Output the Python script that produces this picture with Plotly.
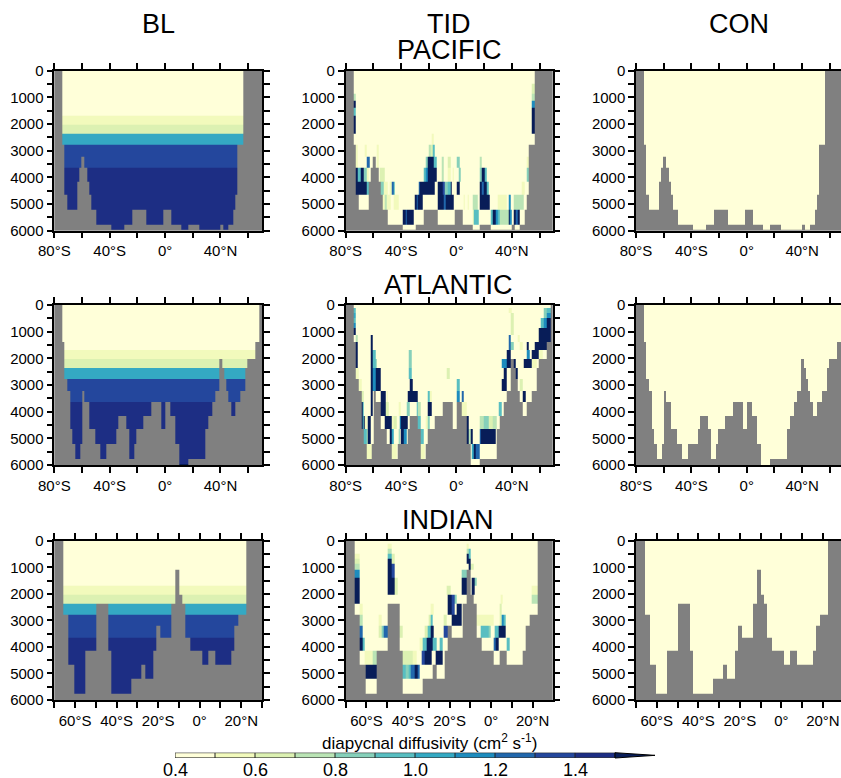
import numpy as np
import plotly.graph_objects as go

W, H = 841, 778
FONT = "Liberation Sans, Arial, Helvetica, sans-serif"

# ---------------- data ----------------
# model layer interfaces (m)
LAYER_EDGES = [0, 100, 300, 500, 680, 860, 1110, 1380, 1690, 2030, 2380, 2780,
               3210, 3650, 4150, 4660, 5200, 5760, 5950, 6000]

# diffusivity by layer (cm2/s)
BL_PROFILE = [0.45, 0.45, 0.45, 0.45, 0.45, 0.45, 0.45, 0.45, 0.55, 0.65, 1.05,
              1.35, 1.35, 1.45, 1.45, 1.45, 1.45, 1.45, 1.6]
CON_PROFILE = [0.45, 0.45, 0.45, 0.45, 0.45, 0.45, 0.45, 0.45, 0.45, 0.45, 0.45,
               0.45, 0.45, 0.45, 0.45, 0.45, 0.45, 0.45, 0.45]
TID_PROFILE = CON_PROFILE

LEVELS = [0.4, 0.5, 0.6, 0.7, 0.8, 0.9, 1.0, 1.1, 1.2, 1.3, 1.4, 1.5]
COLORS = ['#FFFFD9', '#F2FABC', '#DCF1B2', '#BAE4B5', '#86D0BA', '#58BEC1',
          '#34A9C3', '#1D8CBE', '#2167AC', '#24479D', '#1D2E84', '#081D58']
CB_LABELS = [0.4, 0.6, 0.8, 1.0, 1.2, 1.4]

# bathymetry: latitude where a run starts, bottom depth of that run
PAC_BATHY_LAT = [-80, -74.5, -72.5, -70.5, -63.5, -62, -60.5, -58, -56, -54.5, -53,
                 -49.5, -38.5, -29.5, -24, -13.5, -1, 4.5, 11.5, 17, 24.5, 40, 42,
                 45.5, 49, 51, 52.5, 56.5]
PAC_BATHY_DEP = [0, 2780, 4660, 5200, 4150, 3650, 3210, 3650, 4150, 4660, 5200,
                 5760, 5950, 5760, 5200, 5760, 5200, 5760, 5950, 5760, 5950, 5760, 5950,
                 5760, 5200, 4660, 2780, 0]

ATL_BATHY_LAT = [-80, -74.5, -72.5, -70.5, -68.5, -67, -65, -61.5, -60, -58, -54.5,
                 -50.5, -47, -42.5, -35, -33.5, -28, -26, -22.5, -20.5, -15.5, -10,
                 -3, 0.5, 4, 7.5, 10, 16.5, 29, 31.5, 34, 36.5, 39, 41, 42.5, 44.5,
                 46, 47.5, 50.5, 54.5, 58, 59.5, 65.5, 68]
ATL_BATHY_DEP = [0, 1380, 2780, 3210, 4660, 5200, 5760, 5200, 3210, 3650, 4660,
                 5200, 5760, 5200, 4660, 4150, 4660, 5760, 5200, 4660, 4150, 3650,
                 4660, 3650, 4150, 5200, 6000, 5760, 4660, 4150, 3650, 3210, 2030,
                 2380, 2780, 3210, 3650, 4150, 3650, 3210, 2380, 2030, 1380, 0]

IND_BATHY_LAT = [-70.5, -65.5, -63.5, -60.5, -55, -50, -44, -42.5, -33, -28, -26,
                 -22.5, -21, -19, -13.5, -12, -10, -8.5, -7, -4.5, 1, 4, 7.5, 15,
                 16.5, 18.5, 22.5]
IND_BATHY_DEP = [0, 2780, 4660, 5760, 4150, 2380, 4150, 5760, 5200, 4660, 5200,
                 4150, 3210, 3650, 2380, 1110, 2030, 2380, 3650, 4150, 4660, 4150,
                 4660, 4150, 3210, 2780, 0]

# TID: (lat from, lat to, depth from, depth to, diffusivity)
PAC_TID = [
    (-74.5, -72.5, 860, 1110, 0.75), (-74.5, -72.5, 1110, 1380, 1.6),
    (-74.5, -72.5, 1380, 1690, 0.95), (-74.5, -72.5, 1690, 2380, 1.6),
    (-72.5, -71, 2780, 3650, 0.55), (-72.5, -71, 3650, 4150, 1.6),
    (-71, -69.5, 3650, 4150, 0.95), (-69.5, -67, 3650, 4150, 1.6),
    (-67, -65, 3650, 4150, 0.85), (-65, -63.5, 3650, 4150, 0.55),
    (-72.5, -64.5, 4150, 4660, 1.6), (-64.5, -63.5, 4150, 4660, 0.95),
    (-64.5, -62.5, 3210, 3650, 1.25), (-66.5, -65, 2780, 3210, 0.55),
    (-57.5, -56, 2780, 3650, 0.55), (-55.5, -51.5, 3650, 4150, 0.65),
    (-54.5, -52.5, 4150, 4660, 0.85), (-52.5, -50, 4150, 4660, 0.55),
    (-48, -46.5, 4150, 4660, 0.55), (-46.5, -45.5, 4150, 4660, 1.25),
    (-45.5, -44.5, 4150, 4660, 0.95), (-53, -47.5, 4660, 5200, 0.55),
    (-51.5, -50.5, 4660, 5200, 0.75), (-45, -42, 4660, 5200, 0.55),
    (-39, -37, 5200, 5760, 1.6), (-37, -36, 5200, 5760, 1.25), (-36, -31, 5200, 5760, 1.6),
    (-30, -29, 4660, 5200, 1.6), (-29, -28, 4660, 5200, 1.25), (-28, -24.5, 4660, 5200, 1.6),
    (-27.5, -26.5, 4150, 4660, 1.25), (-26.5, -15.5, 4150, 4660, 1.6),
    (-24, -22, 3650, 4150, 0.95), (-22, -21, 3650, 4150, 1.15), (-21, -14, 3650, 4150, 1.6),
    (-22, -21, 3210, 3650, 0.85), (-21, -16.5, 3210, 3650, 1.6), (-16.5, -14.5, 3210, 3650, 0.95),
    (-20, -18.5, 2780, 3210, 0.75), (-18.5, -17, 2780, 3210, 0.65), (-17, -15.5, 2780, 3210, 0.95),
    (-18, -16.5, 2380, 2780, 0.55),
    (-13.5, -9.5, 4660, 5200, 1.6), (-9.5, -8, 4660, 5200, 1.25), (-8, -2, 4660, 5200, 1.6),
    (-13.5, -10, 4150, 4660, 1.6), (-10, -8.5, 4150, 4660, 1.35), (-8.5, -6, 4150, 4660, 0.85),
    (-6, -4.5, 4150, 4660, 0.95), (-4.5, -3.5, 4150, 4660, 1.6), (0.5, 2, 4150, 4660, 1.6),
    (-10.5, -9, 3650, 4150, 0.75), (-6, -4.5, 3650, 4150, 0.55), (-3, -2, 3650, 4150, 0.55),
    (1.5, 3, 3650, 4150, 0.85), (-11, -9.5, 3210, 3650, 0.75), (-6, -4.5, 3210, 3650, 0.65),
    (0.5, 2, 3210, 3650, 0.85), (5, 6, 4660, 5200, 0.55), (8, 9, 4660, 5200, 0.55),
    (12, 15, 4660, 5200, 0.75), (11.5, 12.5, 5200, 5760, 0.55), (12.5, 16, 5200, 5760, 0.95),
    (17, 18.5, 3210, 3650, 0.75), (17, 18.5, 3650, 4150, 0.85), (18.5, 20.5, 3650, 4150, 1.6),
    (20.5, 22, 3650, 4150, 0.95), (17, 18.5, 4150, 4660, 1.6), (18.5, 19.5, 4150, 4660, 1.25),
    (19.5, 22, 4150, 4660, 1.6), (22, 23.5, 4150, 4660, 0.95), (17, 24, 4660, 5200, 1.6),
    (24.5, 26, 5200, 5760, 0.95), (26, 28, 5200, 5760, 1.6), (28, 29.5, 5200, 5760, 1.15),
    (29.5, 31.5, 5200, 5760, 0.95), (31.5, 37.5, 5200, 5760, 0.75), (37.5, 38.5, 5200, 5760, 1.6),
    (38.5, 40, 5200, 5760, 1.15), (41.5, 43, 5200, 5760, 1.6), (43, 44, 5200, 5760, 1.25),
    (44, 45.5, 5200, 5760, 1.6), (30, 36, 4660, 5200, 0.55), (38, 39.5, 4660, 5200, 1.15),
    (41.5, 48.5, 4660, 5200, 0.75), (47, 49, 4150, 4660, 0.55), (51, 52.5, 3210, 3650, 0.55),
    (51, 52.5, 3650, 4150, 0.85), (54.5, 56.5, 500, 860, 0.65), (54.5, 56.5, 860, 1110, 0.75),
    (54.5, 56.5, 1110, 1380, 1.15), (54.5, 56.5, 1380, 2380, 1.6),
]

ATL_TID = [
    (-74.5, -72.5, 100, 300, 0.95), (-74.5, -72.5, 300, 500, 1.05),
    (-74.5, -72.5, 500, 680, 0.95), (-74.5, -72.5, 680, 860, 1.15),
    (-74.5, -72.5, 860, 1110, 1.6), (-72.5, -71, 1110, 1380, 0.75),
    (-72.5, -71, 1380, 2380, 1.6), (-72.5, -70.5, 2380, 2780, 0.55),
    (-70.5, -68.5, 2780, 3210, 0.55), (-68.5, -67, 3210, 3650, 0.65),
    (-68.5, -67.5, 3650, 4660, 1.6), (-67.5, -67, 3650, 4660, 0.95),
    (-67, -66, 4150, 4660, 1.6), (-66, -65, 4150, 4660, 0.55),
    (-67, -65, 4660, 5200, 0.95), (-65, -63, 4660, 5200, 0.75),
    (-64, -62, 4150, 5200, 1.6), (-65, -61.5, 5200, 5760, 0.55),
    (-62, -60.5, 1110, 2380, 1.6), (-62, -60.5, 2380, 4150, 1.6),
    (-60.5, -58.5, 1690, 2380, 0.95), (-60.5, -58.5, 2380, 3210, 1.15),
    (-58.5, -57.5, 2030, 2380, 0.85), (-58.5, -55, 2380, 3210, 1.6),
    (-55, -51, 3210, 4150, 1.6), (-51.5, -47, 4150, 4660, 1.6),
    (-48, -46.5, 4660, 5200, 1.6), (-46.5, -45.5, 4660, 5200, 1.05),
    (-51, -49, 3650, 4150, 0.65), (-50.5, -49.5, 3210, 3650, 0.55),
    (-47, -45, 4150, 4660, 0.55), (-45, -43, 4150, 4660, 0.65), (-47, -43, 5200, 5760, 0.55),
    (-34.5, -32.5, 1690, 2380, 0.85), (-34.5, -32.5, 2380, 2780, 0.95),
    (-33.5, -31.5, 2780, 3210, 1.6), (-35.5, -28, 3210, 3650, 1.6),
    (-40, -35, 4150, 4660, 1.6), (-41, -40, 4150, 4660, 1.15),
    (-42, -41, 4660, 5200, 0.85), (-40, -38, 4660, 5200, 1.6), (-38, -36, 4660, 5200, 1.15),
    (-36, -34, 3650, 4150, 0.85), (-29, -28, 3650, 4150, 0.95), (-42, -40.5, 3650, 4150, 0.55),
    (-28, -26, 3650, 4150, 0.75), (-28, -26, 4150, 4660, 0.95),
    (-26, -24, 4660, 5200, 0.95), (-26, -23, 5200, 5760, 0.55),
    (-21, -18, 3650, 4150, 1.6), (-21, -19.5, 3210, 3650, 0.95), (-19.5, -18, 3210, 3650, 0.55),
    (-22.5, -20.5, 4150, 4660, 0.55), (-20.5, -19, 4150, 4660, 0.85),
    (-7, -5, 2380, 2780, 0.65), (0.5, 2, 2780, 3210, 0.95), (0.5, 2, 3210, 3650, 1.15),
    (4, 5, 3210, 3650, 1.25), (4, 7.5, 3650, 4150, 0.55),
    (7.5, 9, 4150, 5200, 1.6), (9, 10, 4660, 5200, 0.75), (10, 11.5, 4660, 5200, 1.6),
    (11, 12.5, 5200, 5760, 1.05), (12.5, 14, 5200, 5760, 1.6), (14, 16.5, 5200, 5760, 1.25),
    (16.5, 17.5, 4660, 5200, 1.25), (17.5, 28.5, 4660, 5200, 1.6),
    (17, 20, 4150, 4660, 0.75), (20, 23, 4150, 4660, 0.85), (23, 26, 4150, 4660, 0.65),
    (26, 29, 4150, 4660, 0.75), (30.5, 33, 3650, 4150, 0.95),
    (33, 36.5, 2780, 3210, 1.6), (34, 36.5, 2380, 2780, 1.6), (33, 36.5, 2030, 2380, 1.15),
    (36.5, 39, 1690, 2380, 1.6), (38, 39, 1110, 1690, 1.25), (39, 41, 1380, 1690, 0.85),
    (41, 42.5, 2030, 2380, 1.6), (42.5, 44.5, 2380, 2780, 1.6),
    (45.5, 47.5, 2780, 3210, 0.65), (47.5, 50, 3210, 3650, 1.6), (46, 48, 3650, 4150, 0.55),
    (50.5, 52.5, 1380, 1690, 1.6), (50.5, 53, 1690, 2030, 1.15), (48.5, 54, 2030, 2380, 1.6),
    (54, 56.5, 1690, 2030, 1.6), (54.5, 58, 2030, 2380, 0.55), (56.5, 59.5, 1380, 2030, 1.6),
    (59.5, 65.5, 860, 1690, 1.6), (59.5, 62, 1690, 2030, 0.55),
    (60.5, 63, 500, 860, 0.95), (63, 65.5, 500, 860, 1.15), (63, 65.5, 100, 500, 0.85),
    (65.5, 68, 100, 300, 0.95), (65.5, 68, 300, 500, 1.15), (65.5, 68, 500, 1380, 1.6),
    (38, 40, 100, 300, 0.55), (39, 41, 300, 1110, 0.65), (44, 46, 1110, 1380, 0.55),
    (46, 48, 1380, 1690, 0.55),
]

IND_TID = [
    (-65.5, -63.5, 500, 680, 0.55), (-65.5, -63.5, 680, 860, 0.65),
    (-65.5, -63.5, 860, 1110, 0.75), (-65.5, -63.5, 1110, 1380, 1.15),
    (-65.5, -63.5, 1380, 2380, 1.6),
    (-63.5, -62, 2380, 2780, 0.55), (-63.5, -62, 2780, 3210, 0.75),
    (-63.5, -62, 3210, 3650, 1.25), (-63.5, -62, 3650, 4150, 1.6),
    (-62, -61, 3650, 4150, 0.95), (-61, -57, 4150, 4660, 0.55), (-57, -55, 4150, 4660, 0.75),
    (-60.5, -55, 4660, 5200, 1.6),
    (-54, -52.5, 2780, 3210, 0.55), (-54, -52.5, 3210, 3650, 0.65),
    (-52.5, -51.5, 3210, 3650, 0.85), (-51.5, -50, 3210, 3650, 1.25),
    (-50, -48, 100, 300, 0.55), (-50, -48, 300, 500, 0.75), (-50, -48, 500, 680, 0.95),
    (-50, -48, 680, 2030, 1.6), (-48, -46.5, 500, 860, 0.65), (-48, -46.5, 860, 1380, 1.35),
    (-48, -46.5, 1380, 2030, 1.6), (-46.5, -45, 1380, 2030, 0.65),
    (-44, -42.5, 3210, 3650, 0.65), (-42.5, -38, 4150, 4660, 0.65), (-38, -36, 4150, 4660, 0.55),
    (-42.5, -41, 4660, 5200, 0.95), (-41, -39.5, 4660, 5200, 0.85), (-39.5, -38.5, 4660, 5200, 0.95),
    (-38.5, -37, 4660, 5200, 1.25), (-37, -35.5, 4660, 5200, 1.6), (-35.5, -34.5, 4660, 5200, 1.25),
    (-33.5, -32, 4150, 4660, 1.35), (-32, -28.5, 4150, 4660, 1.6), (-26.5, -23.5, 4150, 4660, 1.6),
    (-34.5, -33, 3650, 4150, 0.55), (-33, -31, 3650, 4150, 0.95), (-31, -28, 3650, 4150, 1.6),
    (-28, -26, 3650, 4150, 0.95), (-25, -23.5, 3650, 4150, 0.95),
    (-32, -30.5, 3210, 3650, 0.65), (-30.5, -29, 3210, 3650, 0.95), (-29, -27.5, 3210, 3650, 1.6),
    (-23, -21, 3210, 3650, 1.35), (-30, -29, 2780, 3210, 0.65), (-29, -28, 2780, 3210, 0.95),
    (-29, -27.5, 2380, 2780, 0.55),
    (-21.5, -19.5, 1690, 2030, 0.65), (-21, -19, 2030, 2780, 1.6), (-19, -17.5, 2030, 2780, 1.35),
    (-17.5, -16.5, 2030, 2380, 0.85), (-19, -16.5, 2780, 3210, 1.6), (-23, -21.5, 2780, 3210, 0.65),
    (-16.5, -14, 2380, 3210, 1.6), (-14, -12, 1380, 2030, 1.6), (-14, -12, 1110, 1380, 0.85),
    (-12, -11, 100, 300, 0.55), (-12, -11, 300, 500, 0.75), (-12, -11, 500, 860, 1.6),
    (-11, -10, 300, 680, 0.95), (-11, -10, 680, 1110, 1.6),
    (-10, -8.5, 860, 1110, 0.65), (-9.5, -8, 1380, 2030, 1.6), (-8, -7, 1380, 1690, 0.85),
    (-7, 1, 2780, 3210, 0.55), (-5, -1, 3210, 3650, 0.95), (-1, 0, 3210, 3650, 0.85),
    (1.5, 3.5, 3210, 3650, 0.95), (3.5, 7, 3210, 3650, 1.6),
    (1, 2, 3650, 4150, 1.25), (2, 3.5, 3650, 4150, 1.6), (7.5, 9, 3650, 4150, 0.95),
    (4, 5, 2780, 3210, 0.65), (5, 6, 2780, 3210, 1.15), (6, 7, 2780, 3210, 0.95),
    (4, 5, 2380, 2780, 0.65), (4.5, 5.5, 2030, 2380, 0.55),
    (19.5, 22.5, 1690, 2030, 0.55), (19.5, 22.5, 2030, 2380, 0.75),
]

# x-axis settings per basin
PAC_RANGE = [-80, 70]
IND_RANGE = [-70, 30]
PA_TICKS = [-80, -60, -40, -20, 0, 20, 40, 60]
PA_TEXT = ['80°S', '', '40°S', '', '0°', '', '40°N', '']
IN_TICKS = [-70, -60, -50, -40, -30, -20, -10, 0, 10, 20, 30]
IN_TEXT = ['', '60°S', '', '40°S', '', '20°S', '', '0°', '', '20°N', '']
Y_TICKS = list(range(0, 6001, 500))
Y_TEXT = [str(v) if v % 1000 == 0 else '' for v in Y_TICKS]

# ---------------- build ----------------
colorscale = []
for k, c in enumerate(COLORS):
    colorscale.append([k / len(COLORS), c])
    colorscale.append([(k + 1) / len(COLORS), c])
ZMIN, ZMAX = 0.4, 1.6


def section(b_lat, b_dep, lat_max, profile, patches=()):
    pts = set(b_lat) | {lat_max}
    for p in patches:
        pts |= {p[0], p[1]}
    edges = sorted(e for e in pts if b_lat[0] <= e <= lat_max)
    mids = [(a + b) / 2 for a, b in zip(edges[:-1], edges[1:])]
    dmid = [(a + b) / 2 for a, b in zip(LAYER_EDGES[:-1], LAYER_EDGES[1:])]
    z = np.full((len(dmid), len(mids)), np.nan)
    for j, m in enumerate(mids):
        i = int(np.searchsorted(b_lat, m, side='right')) - 1
        bottom = b_dep[i]
        for k, d in enumerate(dmid):
            if d < bottom:
                z[k, j] = profile[k]
        for (a, b, d0, d1, v) in patches:
            if a <= m <= b:
                for k, d in enumerate(dmid):
                    if d0 <= d <= d1 and d < bottom:
                        z[k, j] = v
    return edges, z


basins = [
    (PAC_BATHY_LAT, PAC_BATHY_DEP, PAC_TID, PAC_RANGE, PA_TICKS, PA_TEXT),
    (ATL_BATHY_LAT, ATL_BATHY_DEP, ATL_TID, PAC_RANGE, PA_TICKS, PA_TEXT),
    (IND_BATHY_LAT, IND_BATHY_DEP, IND_TID, IND_RANGE, IN_TICKS, IN_TEXT),
]
COLS = [(54.3, 262.0), (345.7, 552.7), (636.0, 841.0)]
ROWS = [(70.7, 230.7), (305.0, 465.0), (540.7, 700.0)]

fig = go.Figure()
layout = {}
axis_common = dict(showgrid=False, zeroline=False, showline=True, linecolor='black',
                   linewidth=1.5, mirror='ticks', ticks='outside', ticklen=6,
                   tickwidth=1.5, tickcolor='black', automargin=False,
                   tickfont=dict(family=FONT, size=15, color='black'))

for r, (blat, bdep, tid, rng, tv, tt) in enumerate(basins):
    for c, (profile, patches) in enumerate([(BL_PROFILE, ()), (TID_PROFILE, tid),
                                            (CON_PROFILE, ())]):
        n = r * 3 + c + 1
        x0, x1 = COLS[c]
        y0, y1 = ROWS[r]
        span = rng[1] - rng[0]
        full_w = COLS[0][1] - COLS[0][0]
        xr = [rng[0], rng[0] + span * (x1 - x0) / full_w]
        edges, z = section(blat, bdep, xr[1], profile, patches)
        xa = 'x' if n == 1 else f'x{n}'
        ya = 'y' if n == 1 else f'y{n}'
        fig.add_trace(go.Heatmap(x=edges, y=LAYER_EDGES, z=z, xaxis=xa, yaxis=ya,
                                 colorscale=colorscale, zmin=ZMIN, zmax=ZMAX,
                                 showscale=False, hoverinfo='skip', zsmooth=False))
        kx = 'xaxis' if n == 1 else f'xaxis{n}'
        ky = 'yaxis' if n == 1 else f'yaxis{n}'
        layout[kx] = dict(axis_common, domain=[x0 / W, x1 / W], range=xr, anchor=ya,
                          tickmode='array', tickvals=tv, ticktext=tt)
        layout[ky] = dict(axis_common, domain=[1 - y1 / H, 1 - y0 / H], range=[6000, 0],
                          anchor=xa, tickmode='array', tickvals=Y_TICKS, ticktext=Y_TEXT)

# ---- colour bar (own axes) ----
cb_x0, cb_x1 = 175.0, 615.0
cb_y0, cb_y1 = 752.7, 758.0
bin_mid = [(a + b) / 2 for a, b in zip(LEVELS[:-1], LEVELS[1:])]
fig.add_trace(go.Heatmap(x=LEVELS, y=[0, 1], z=[bin_mid], xaxis='x10', yaxis='y10',
                         colorscale=colorscale, zmin=ZMIN, zmax=ZMAX, showscale=False,
                         hoverinfo='skip'))
layout['xaxis10'] = dict(domain=[cb_x0 / W, cb_x1 / W], range=[LEVELS[0], LEVELS[-1]],
                         anchor='y10', showgrid=False, zeroline=False, showline=False,
                         ticks='', showticklabels=False, automargin=False)
layout['yaxis10'] = dict(domain=[1 - cb_y1 / H, 1 - cb_y0 / H], range=[0, 1],
                         anchor='x10', visible=False, automargin=False)

shapes = []
for v in LEVELS[1:-1]:
    shapes.append(dict(type='line', xref='x10', yref='y10', x0=v, x1=v, y0=0, y1=1,
                       line=dict(color='#222222', width=1)))
shapes.append(dict(type='rect', xref='x10', yref='y10', x0=LEVELS[0], x1=LEVELS[-1],
                   y0=0, y1=1, line=dict(color='#222222', width=1)))
tip = cb_x1 + (cb_x1 - cb_x0) / (len(LEVELS) - 1)
shapes.append(dict(type='path', xref='paper', yref='paper',
                   path=(f'M {cb_x1 / W},{1 - cb_y0 / H} L {tip / W},{1 - (cb_y0 + cb_y1) / 2 / H} '
                         f'L {cb_x1 / W},{1 - cb_y1 / H} Z'),
                   fillcolor=COLORS[-1], line=dict(color='black', width=1)))

annotations = []
def title(text, x, y, size=27):
    annotations.append(dict(text=text, x=x / W, y=1 - y / H, xref='paper', yref='paper',
                            showarrow=False, xanchor='center', yanchor='middle',
                            font=dict(family=FONT, size=size, color='black')))

title('BL', 158, 24.5)
title('TID', 449, 24.5)
title('CON', 738.5, 24.5)
title('PACIFIC', 449, 50)
title('ATLANTIC', 448, 285)
title('INDIAN', 448, 520)
title('diapycnal diffusivity (cm<sup>2</sup> s<sup>-1</sup>)', 429, 741.5, 17)

# colour-bar labels
for v in CB_LABELS:
    annotations.append(dict(text=f'{v:.1f}', x=v, y=1 - 769.5 / H, xref='x10', yref='paper',
                            showarrow=False, xanchor='center', yanchor='middle',
                            font=dict(family=FONT, size=18, color='black')))

fig.update_layout(width=W, height=H,
                  margin=dict(l=0, r=0, t=0, b=0, pad=0, autoexpand=False),
                  paper_bgcolor='white', plot_bgcolor='#808080', showlegend=False,
                  shapes=shapes, annotations=annotations, **layout)

fig.write_html("out.html",
               post_script="document.body.style.margin='0px';"
                           "document.documentElement.style.margin='0px';"
                           "document.body.style.overflow='hidden';")
